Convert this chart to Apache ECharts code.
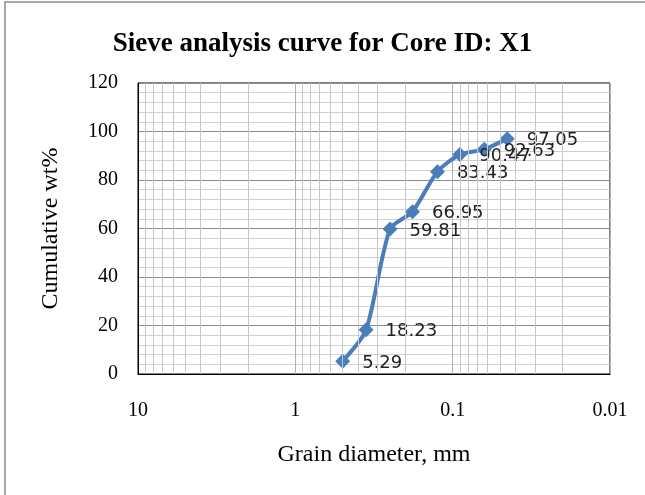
<!DOCTYPE html>
<html>
<head>
<meta charset="utf-8">
<script src="https://cdn.jsdelivr.net/npm/echarts@6/dist/echarts.min.js"></script>
<style>
  html, body { margin: 0; padding: 0; background: #fff; }
  #chart { width: 645px; height: 495px; }
</style>
</head>
<body>
<div id="chart"></div>
<script>
// grain size (mm) and cumulative wt%
var grainSize = [0.5, 0.355, 0.25, 0.18, 0.125, 0.09, 0.063, 0.045]
var cumulative = [5.29, 18.23, 59.81, 66.95, 83.43, 90.47, 92.63, 97.05]
// log minor grid lines (2..9 in every decade)
var minorX = [0.02, 0.03, 0.04, 0.05, 0.06, 0.07, 0.08, 0.09,
  0.2, 0.3, 0.4, 0.5, 0.6, 0.7, 0.8, 0.9,
  2, 3, 4, 5, 6, 7, 8, 9]

var serif = '"Liberation Serif", "Times New Roman", serif'
var chart = echarts.init(document.getElementById('chart'))

var points = grainSize.map(function (d, i) { return [d, cumulative[i]] })

chart.setOption({
  animation: false,
  title: {
    text: 'Sieve analysis curve for Core ID: X1',
    left: 'center',
    top: 26,
    textStyle: { fontFamily: serif, fontSize: 27, fontWeight: 'bold', color: '#000' }
  },
  graphic: [{
    type: 'rect',
    shape: { x: 5, y: 2, width: 700, height: 600 },
    style: { fill: 'none', stroke: '#8a8a8a', lineWidth: 1.5 },
    silent: true
  }],
  grid: {
    left: 138, top: 83, right: 35, bottom: 121,
    show: true, borderColor: '#000', borderWidth: 1
  },
  xAxis: {
    type: 'log',
    logBase: 10,
    min: 0.01,
    max: 10,
    inverse: true,
    name: 'Grain diameter, mm',
    nameLocation: 'middle',
    nameGap: 69,
    nameTextStyle: { fontFamily: serif, fontSize: 24, color: '#000' },
    axisLine: { lineStyle: { color: '#000' } },
    axisTick: { show: false },
    axisLabel: {
      margin: 27,
      fontFamily: serif, fontSize: 20, color: '#000',
      formatter: function (v) { return String(+(+v).toPrecision(1)) }
    },
    splitLine: { show: true, lineStyle: { color: '#b0b0b0' } }
  },
  yAxis: {
    type: 'value',
    min: 0,
    max: 120,
    interval: 20,
    name: 'Cumulative wt%',
    nameLocation: 'middle',
    nameGap: 75,
    nameTextStyle: { fontFamily: serif, fontSize: 24, color: '#000' },
    axisLine: { show: true, lineStyle: { color: '#000' } },
    axisTick: { show: false },
    axisLabel: { margin: 20, fontFamily: serif, fontSize: 20, color: '#000' },
    splitLine: { lineStyle: { color: '#8c8c8c' } },
    minorTick: { show: false, splitNumber: 5 },
    minorSplitLine: { show: true, lineStyle: { color: '#d0d0d0' } }
  },
  series: [{
    type: 'line',
    data: points,
    smooth: 0.25,
    symbol: 'diamond',
    symbolSize: 15,
    lineStyle: { color: '#4a7ebb', width: 4 },
    itemStyle: { color: '#4a7ebb' },
    label: {
      show: true,
      position: 'right',
      distance: 12,
      offset: [0, 2],
      fontFamily: '"DejaVu Sans", sans-serif',
      fontSize: 18,
      color: '#222',
      formatter: function (p) { return p.value[1] }
    },
    markLine: {
      silent: true,
      symbol: 'none',
      label: { show: false },
      lineStyle: { color: '#c8c8c8', type: 'solid', width: 1 },
      data: minorX.map(function (x) { return { xAxis: x } })
    },
    z: 3
  }]
})
</script>
</body>
</html>
